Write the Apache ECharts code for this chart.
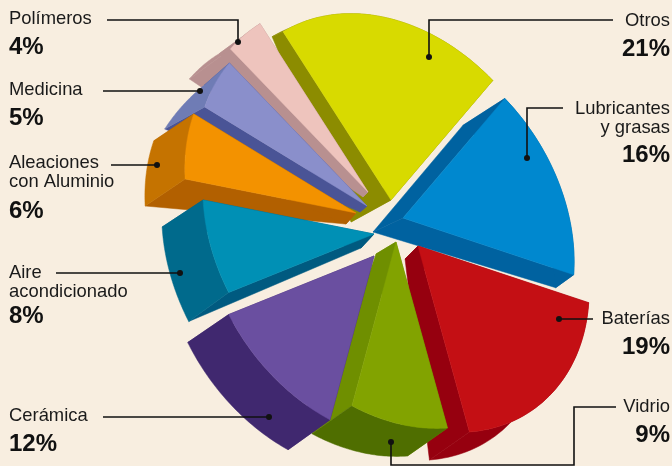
<!DOCTYPE html>
<html><head><meta charset="utf-8">
<style>html,body{margin:0;padding:0;background:#f8eee0}#c{width:672px;height:466px}</style>
<script src="https://cdn.jsdelivr.net/npm/echarts@6/dist/echarts.min.js"></script>
</head><body><div id="c"></div>
<script>
// ---- data
const categories = ['Otros','Lubricantes y grasas','Baterías','Vidrio','Cerámica','Aire acondicionado','Aleaciones con Aluminio','Medicina','Polímeros'];
const values = [21,16,19,9,12,8,6,5,4];
// ---- styles
const faceColors = ['#d8da00','#0088cf','#c40f14','#82a300','#6a4fa0','#0090b5','#f39200','#8a8fcb','#eec4bd'];
const bandColors = ['#8c8c00','#0062a0','#96000f','#6f8f00','#40286f','#005a80','#b26000','#4a5496','#b89090'];
const rimColors  = ['#8c8c00','#0062a0','#96000f','#4f6e00','#40286f','#006a8c','#c57300','#6f7cb5','#b89090'];
// ---- layout of the exploded, tilted pie
const centre = [372,225];
const axisA = 200, axisB = 155, tilt = -35, startAngle = 3;
const explode = [[19,-25],[31,-7],[46,21],[24,17],[2,31],[2,9],[-16,-12],[-5,-19],[-4,-33]];
const sideApex  = [[-40,22],[-30,14],[-13,13],[-20,12],[0,0],[-13,14],[-10,11],[-7,6],[-5,5]];
const sideStart = [[-11,5],[-42,27],[-40,28],[-40,28],[-42,30],[-40,29],[-40,27],[-40,22],[-41,30]];
const sideEnd   = [[-11,5],[-18,13],[-40,28],[-40,28],[-41,28],[-41,27],[-40,27],[-25,22],[-41,30]];
const drawOrder = [0,8,7,6,5,1,2,3,4];
// ---- labels: [text lines, bold value, x, first baseline, align, value baseline]
const labelTexts = [
 [['Polímeros'],'4%',9,24,'left',54],
 [['Medicina'],'5%',9,95,'left',125],
 [['Aleaciones','con Aluminio'],'6%',9,168,'left',218],
 [['Aire','acondicionado'],'8%',9,278,'left',323],
 [['Cerámica'],'12%',9,421,'left',451],
 [['Otros'],'21%',670,26,'right',56],
 [['Lubricantes','y grasas'],'16%',670,114,'right',162],
 [['Baterías'],'19%',670,324,'right',354],
 [['Vidrio'],'9%',670,412,'right',442]
];
const leaders = [
 [[107,20],[238,20],[238,42]],
 [[103,91],[200,91]],
 [[111,165],[157,165]],
 [[56,273],[180,273]],
 [[103,417],[269,417]],
 [[613,20],[429,20],[429,57]],
 [[563,108],[527,108],[527,158]],
 [[593,319],[559,319]],
 [[616,407],[574,407],[574,465],[391,465],[391,442]]
];

const total = values.reduce((a,b)=>a+b,0);
const rad = Math.PI/180;
const u = [Math.sin(tilt*rad),-Math.cos(tilt*rad)];
const v = [-u[1],u[0]];
function rimPoint(i,deg){
  const ap=[centre[0]+explode[i][0],centre[1]+explode[i][1]];
  const c=Math.cos(deg*rad)*axisA, s=Math.sin(deg*rad)*axisB;
  return [ap[0]+c*u[0]+s*v[0], ap[1]+c*u[1]+s*v[1]];
}
function sliceAngles(i){
  let sum=0; for(let k=0;k<i;k++) sum+=values[k];
  return [startAngle+sum/total*360, startAngle+(sum+values[i])/total*360];
}
function renderItem(params,api){
  const i=drawOrder[api.value(0)];
  const [a0,a1]=sliceAngles(i);
  const A=[centre[0]+explode[i][0],centre[1]+explode[i][1]];
  const n=40, arc=[], arcLow=[];
  for(let k=0;k<=n;k++){
    const t=k/n, p=rimPoint(i,a0+(a1-a0)*t);
    arc.push(p);
    arcLow.push([p[0]+sideStart[i][0]*(1-t)+sideEnd[i][0]*t, p[1]+sideStart[i][1]*(1-t)+sideEnd[i][1]*t]);
  }
  const Alow=[A[0]+sideApex[i][0],A[1]+sideApex[i][1]];
  const poly=(pts,col)=>({type:'polygon',shape:{points:pts},style:{fill:col,stroke:col,lineWidth:.5}});
  return {type:'group',children:[
    poly([A,arc[0],arcLow[0],Alow],bandColors[i]),
    poly([A,arc[n],arcLow[n],Alow],bandColors[i]),
    poly(arc.concat(arcLow.slice().reverse()),rimColors[i]),
    poly([A].concat(arc),faceColors[i])
  ]};
}
const graphics=[];
labelTexts.forEach(l=>{
  const [lines,val,x,y,align,vy]=l;
  lines.forEach((t,j)=>graphics.push({type:'text',silent:true,x:x,y:y+j*19+4,style:{text:t,fill:'#1a1a1a',font:'18.4px "Liberation Sans"',textAlign:align,textVerticalAlign:'bottom'}}));
  graphics.push({type:'text',silent:true,x:x,y:vy+5,style:{text:val,fill:'#111',font:'bold 24px "Liberation Sans"',textAlign:align,textVerticalAlign:'bottom'}});
});
leaders.forEach(pts=>{
  graphics.push({type:'polyline',silent:true,z:20,shape:{points:pts},style:{stroke:'#111',lineWidth:1.6,fill:null}});
  const e=pts[pts.length-1];
  graphics.push({type:'circle',silent:true,z:20,shape:{cx:e[0],cy:e[1],r:3},style:{fill:'#111'}});
});
const chart=echarts.init(document.getElementById('c'),null,{renderer:'canvas'});
chart.setOption({
  animation:false,
  backgroundColor:'#f8eee0',
  series:[{type:'custom',coordinateSystem:'none',renderItem:renderItem,silent:true,
    data:drawOrder.map((d,j)=>[j,values[d]]),encode:{}}],
  graphic:graphics
});
</script></body></html>
